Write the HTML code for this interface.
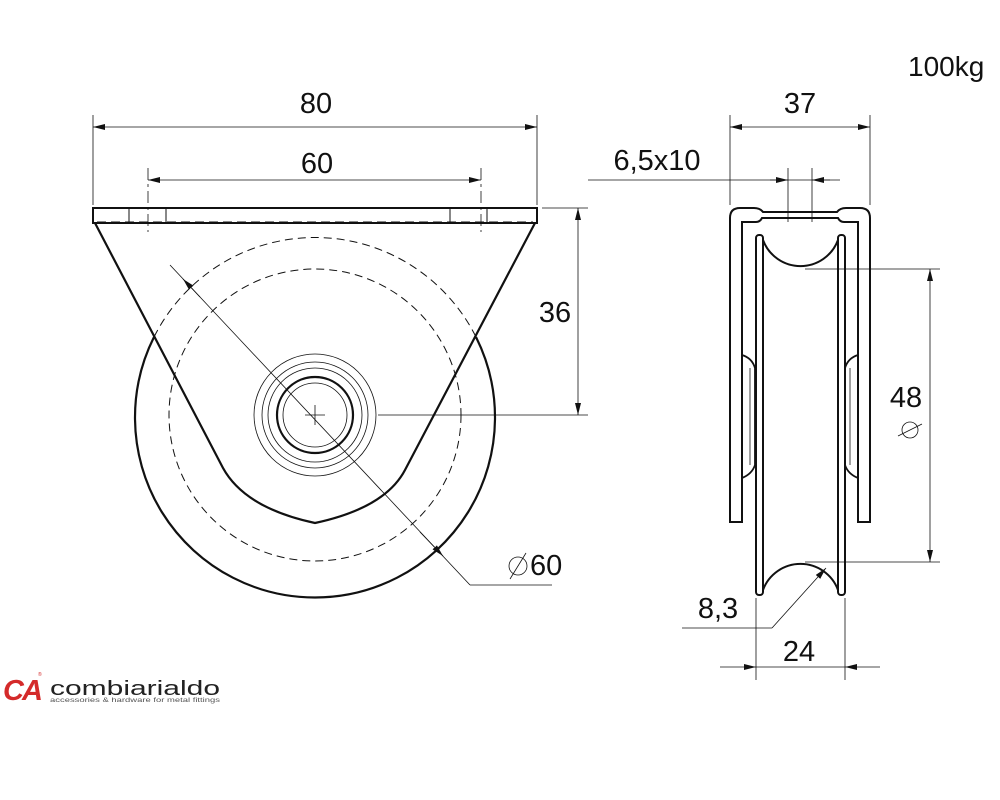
<!DOCTYPE html>
<html><head><style>
html,body{margin:0;padding:0;background:#fff;}
svg{display:block;}
text{font-family:"Liberation Sans",Arial,sans-serif;fill:#111;}
</style></head><body>
<svg width="1000" height="800" viewBox="0 0 1000 800" xmlns="http://www.w3.org/2000/svg">
<defs>
<marker id="a" viewBox="0 0 12 6" refX="12" refY="3" markerWidth="12" markerHeight="6" markerUnits="userSpaceOnUse" orient="auto-start-reverse"><path d="M0,0 L12,3 L0,6z" fill="#111"/></marker>
</defs>
<g fill="none" stroke="#111">
<!-- visible wheel arc -->
<path d="M154,337 A180,180 0 1 0 476,337" stroke-width="2.2" fill="#fff"/>
<!-- bracket -->
<path d="M95,223 L223,468 Q245,508 315,523 Q385,508 405,470 L535,223" stroke-width="2.2" fill="#fff"/>
<path d="M154,337 A180,180 0 0 1 476,337" stroke-width="1" stroke-dasharray="8,5"/>
<circle cx="315" cy="415" r="146" stroke-width="1" stroke-dasharray="8,5"/>
<rect x="93" y="208" width="444" height="15" stroke-width="2" fill="#fff"/>
<line x1="97" y1="222" x2="533" y2="222" stroke-width="1" stroke-dasharray="9,5"/>
<path d="M129,209 V222 M166,209 V222 M450,209 V222 M487,209 V222" stroke-width="1"/>
<!-- hub -->
<circle cx="315" cy="415" r="61" stroke-width="0.8" fill="#fff"/>
<circle cx="315" cy="415" r="53" stroke-width="0.8"/>
<circle cx="315" cy="415" r="47" stroke-width="0.8"/>
<circle cx="315" cy="415" r="38" stroke-width="2.2"/>
<circle cx="315" cy="415" r="32" stroke-width="0.8"/>
<path d="M305,415 H325 M315,405 V425" stroke-width="0.8"/>
<!-- dims left -->
<path d="M93,115 V205 M537,115 V205" stroke-width="0.8"/>
<line x1="93" y1="127" x2="537" y2="127" stroke-width="0.8" marker-start="url(#a)" marker-end="url(#a)"/>
<path d="M148,168 V232 M481,168 V232" stroke-width="0.8" stroke-dasharray="12,4,3,4"/>
<line x1="148" y1="180" x2="481" y2="180" stroke-width="0.8" marker-start="url(#a)" marker-end="url(#a)"/>
<path d="M542,208 H588 M378,415 H588" stroke-width="0.8"/>
<line x1="578" y1="208" x2="578" y2="415" stroke-width="0.8" marker-start="url(#a)" marker-end="url(#a)"/>
<line x1="170" y1="265" x2="470" y2="585" stroke-width="0.8"/>
<line x1="200" y1="297" x2="183" y2="279" stroke-width="0.8" marker-end="url(#a)"/>
<line x1="420" y1="532" x2="443" y2="556" stroke-width="0.8" marker-end="url(#a)"/>
<line x1="470" y1="585" x2="552" y2="585" stroke-width="0.8"/>
<!-- right view -->
<path d="M730,522 V218 Q730,208 740,208 H754 Q760,208 763,212 H837 Q840,208 846,208 H860 Q870,208 870,218 V522 H858 V222 H844 Q840,222 838,218 H762 Q760,222 756,222 H742 V522 Z" stroke-width="2" fill="#fff"/>
<rect x="756" y="235" width="7" height="360" rx="3" stroke-width="2" fill="#fff"/>
<rect x="838" y="235" width="7" height="360" rx="3" stroke-width="2" fill="#fff"/>
<path d="M763,240 A40,40 0 0 0 838,240" stroke-width="2"/>
<path d="M763,590 A40,40 0 0 1 838,590" stroke-width="2"/>
<path d="M742,355 Q752,358 755,368 V465 Q752,474 742,478" stroke-width="1.8"/>
<path d="M858,355 Q848,358 845,368 V465 Q848,474 858,478" stroke-width="1.8"/>
<line x1="750" y1="368" x2="750" y2="465" stroke-width="0.8"/>
<line x1="850" y1="368" x2="850" y2="465" stroke-width="0.8"/>
<!-- dims right -->
<path d="M730,115 V205 M870,115 V205" stroke-width="0.8"/>
<line x1="730" y1="127" x2="870" y2="127" stroke-width="0.8" marker-start="url(#a)" marker-end="url(#a)"/>
<path d="M788,168 V222 M812,168 V222" stroke-width="0.8"/>
<line x1="588" y1="180" x2="840" y2="180" stroke-width="0.8"/>
<line x1="770" y1="180" x2="788" y2="180" stroke-width="0.8" marker-end="url(#a)"/>
<line x1="830" y1="180" x2="812" y2="180" stroke-width="0.8" marker-end="url(#a)"/>
<path d="M805,269 H940 M805,562 H940" stroke-width="0.8"/>
<line x1="930" y1="269" x2="930" y2="562" stroke-width="0.8" marker-start="url(#a)" marker-end="url(#a)"/>
<path d="M756,598 V680 M845,598 V680" stroke-width="0.8"/>
<line x1="720" y1="667" x2="756" y2="667" stroke-width="0.8" marker-end="url(#a)"/>
<line x1="880" y1="667" x2="845" y2="667" stroke-width="0.8" marker-end="url(#a)"/>
<line x1="756" y1="667" x2="845" y2="667" stroke-width="0.8"/>
<line x1="772" y1="628" x2="826" y2="568" stroke-width="0.8" marker-end="url(#a)"/>
<line x1="682" y1="628" x2="772" y2="628" stroke-width="0.8"/>
<!-- diameter symbols -->
<circle cx="518" cy="566" r="9" stroke-width="0.8"/>
<line x1="510" y1="579" x2="526" y2="553" stroke-width="0.8"/>
<circle cx="910" cy="430" r="8" stroke-width="0.8"/>
<line x1="898" y1="436" x2="922" y2="424" stroke-width="0.8"/>
</g>
<g font-size="29">
<text x="316" y="113" text-anchor="middle">80</text>
<text x="317" y="173" text-anchor="middle">60</text>
<text x="555" y="322" text-anchor="middle">36</text>
<text x="530" y="575">60</text>
<text x="800" y="113" text-anchor="middle">37</text>
<text x="657" y="170" text-anchor="middle">6,5x10</text>
<text x="906" y="407" text-anchor="middle">48</text>
<text x="718" y="618" text-anchor="middle">8,3</text>
<text x="799" y="661" text-anchor="middle">24</text>
<text x="908" y="76" font-size="28">100kg</text>
</g>
<!-- logo -->
<text x="3" y="700" font-size="29" font-weight="bold" font-style="italic" style="fill:#d42a2a;letter-spacing:-2px">CA</text>
<text x="38" y="676" font-size="5" style="fill:#d42a2a">®</text>
<text x="50" y="695" font-size="20" textLength="170" lengthAdjust="spacingAndGlyphs" style="fill:#222">combiarialdo</text>
<text x="50" y="702" font-size="6" textLength="170" lengthAdjust="spacingAndGlyphs" style="fill:#555">accessories &amp; hardware for metal fittings</text>
</svg>
</body></html>
